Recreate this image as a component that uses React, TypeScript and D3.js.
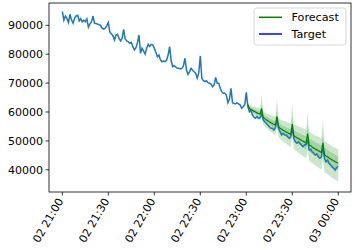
import React from "react";
import * as d3 from "d3";

const START = Date.UTC(2021, 0, 2, 21, 0);

// Target: one value per minute from 02 21:00 to 03 00:00
const targetValues = [
  94800, 91800, 93200, 92400, 91000, 93800, 91800, 90700, 92500, 93300,
  93500, 91500, 92300, 91200, 91800, 91250, 92200, 89400, 90500, 91200,
  93200, 90700, 90600, 90400, 90200, 89900, 89000, 88700, 89000, 89900,
  91000, 87600, 87100, 86400, 84900, 86600, 86900, 85500, 84600, 85500,
  88600, 85250, 84600, 84300, 83800, 84100, 82600, 81450, 82250, 84000,
  86650, 80300, 82050, 81100, 80000, 82050, 83400, 82700, 83400, 83200,
  82050, 80650, 79100, 79700, 78000, 77400, 77650, 77400, 77900, 79700,
  82600, 77650, 75700, 76000, 75570, 75100, 75100, 74900, 75100, 76000,
  78600, 74530, 73000, 73950, 75100, 74430, 73950, 73400, 71700, 73500,
  79400, 71650, 70830, 70500, 70830, 70140, 69930, 69700, 68750, 69340,
  72000, 69930, 69930, 68200, 67030, 66500, 66500, 65880, 63200, 64500,
  68200, 63220, 63000, 62770, 63220, 62770, 62420, 61300, 61830, 62500,
  66800, 61830, 60100, 60700, 58960, 58170, 57800, 58400, 57800, 58000,
  59300, 57230, 56650, 56100, 55500, 54900, 54360, 54360, 53770, 54500,
  57800, 54360, 53200, 52050, 52630, 52050, 52050, 51450, 50900, 51450,
  54400, 50900, 49700, 49170, 49700, 49170, 48580, 48000, 48580, 48800,
  50300, 46850, 47100, 46260, 45700, 45100, 45470, 44530, 43980, 44500,
  48000, 43980, 42800, 43390, 42250, 41660, 41000, 40500, 39900, 40900,
  41200,
];

// Forecast: one value per minute from 02 23:01 to 03 00:00
const forecastStartMinute = 121;
const forecastMedian = [
  62500, 61300, 60900, 60600, 60300, 60000, 59700, 59500, 59300, 61200,
  58200, 57700, 57300, 57000, 56600, 56300, 56000, 55700, 55500, 58500,
  55000, 54400, 54000, 53700, 53400, 53100, 52800, 52500, 52300, 55800,
  51800, 51400, 51100, 50800, 50500, 50200, 49900, 49600, 49300, 52500,
  48600, 48300, 47900, 47500, 47200, 46900, 46600, 46300, 46000, 49300,
  45200, 44800, 44500, 44100, 43700, 43400, 43100, 42800, 42500, 42250,
];
// half width of the 50% interval
const band50Width = [
  500, 550, 600, 650, 700, 750, 800, 850, 900, 1500,
  950, 1000, 1050, 1100, 1150, 1200, 1250, 1300, 1350, 2100,
  1400, 1450, 1500, 1550, 1600, 1650, 1700, 1750, 1800, 2700,
  1850, 1900, 1950, 2000, 2050, 2100, 2150, 2200, 2250, 3100,
  2250, 2300, 2300, 2350, 2350, 2400, 2400, 2400, 2450, 3300,
  2400, 2400, 2450, 2450, 2400, 2400, 2450, 2400, 2400, 2400,
];
// distance of the 90% interval below / above the median
const band90Below = [
  1200, 1300, 1450, 1600, 1750, 1900, 2000, 2150, 2300, 2400,
  2500, 2600, 2750, 2900, 3000, 3100, 3200, 3300, 3400, 3500,
  3600, 3700, 3800, 3900, 4000, 4100, 4200, 4300, 4400, 4500,
  4600, 4700, 4800, 4900, 5000, 5100, 5200, 5300, 5400, 5500,
  5500, 5600, 5600, 5700, 5700, 5800, 5800, 5900, 5900, 6000,
  6000, 6000, 6100, 6100, 6100, 6200, 6200, 6200, 6200, 6200,
];
const band90Above = [
  1200, 1300, 1400, 1500, 1600, 1700, 1800, 1900, 2000, 5000,
  2100, 2200, 2300, 2400, 2500, 2600, 2700, 2800, 2900, 6000,
  3000, 3100, 3200, 3300, 3400, 3500, 3600, 3700, 3800, 7000,
  3900, 4000, 4100, 4200, 4300, 4400, 4500, 4500, 4600, 7500,
  4600, 4600, 4700, 4700, 4700, 4800, 4800, 4800, 4800, 7800,
  4800, 4800, 4800, 4800, 4800, 4800, 4800, 4800, 4800, 4800,
];

const yTicks = [40000, 50000, 60000, 70000, 80000, 90000];
const xTickMinutes = [0, 30, 60, 90, 120, 150, 180];
const legendItems = [
  { label: "Forecast", color: "green" },
  { label: "Target", color: "blue" },
];

const W = 359;
const H = 250;
const L = 49, R = 351, T = 3, B = 192;
const FONT = "DejaVu Sans, sans-serif";

const minute = (m: number) => new Date(START + m * 60000);

export default function App() {
  const x = d3.scaleUtc().domain([minute(-8.7), minute(188.3)]).range([L, R]);
  const y = d3.scaleLinear().domain([32318, 97716]).range([B, T]);
  const fmt = d3.utcFormat("%d %H:%M");

  const target = targetValues.map((v, i) => ({ t: minute(i), v }));
  const fc = forecastMedian.map((m, i) => ({
    t: minute(forecastStartMinute + i),
    m,
    lo50: m - band50Width[i],
    hi50: m + band50Width[i],
    lo90: m - band90Below[i],
    hi90: m + band90Above[i],
  }));

  const line = d3.line<{ t: Date; v: number }>().x((d) => x(d.t)).y((d) => y(d.v));
  const mline = d3.line<any>().x((d) => x(d.t)).y((d) => y(d.m));
  const area90 = d3.area<any>().x((d) => x(d.t)).y0((d) => y(d.lo90)).y1((d) => y(d.hi90));
  const area50 = d3.area<any>().x((d) => x(d.t)).y0((d) => y(d.lo50)).y1((d) => y(d.hi50));

  return (
    <svg width={W} height={H} style={{ position: "fixed", left: 0, top: 0 }} fontFamily={FONT}>
      <rect x={0} y={0} width={W} height={H} fill="white" />
      <path d={area90(fc) || ""} fill="green" fillOpacity={0.2} />
      <path d={area50(fc) || ""} fill="green" fillOpacity={0.2} />
      <path d={line(target) || ""} fill="none" stroke="#1f77b4" strokeWidth={1.5} />
      <path d={mline(fc) || ""} fill="none" stroke="green" strokeWidth={1.2} />
      <rect x={L} y={T} width={R - L} height={B - T} fill="none" stroke="#000" strokeWidth={0.8} />
      {yTicks.map((v) => (
        <g key={v}>
          <line x1={L - 3.5} x2={L} y1={y(v)} y2={y(v)} stroke="#000" strokeWidth={0.8} />
          <text x={L - 6} y={y(v)} dy="0.36em" textAnchor="end" fontSize={11} fill="#000">
            {v}
          </text>
        </g>
      ))}
      {xTickMinutes.map((m) => {
        const tx = x(minute(m));
        return (
          <g key={m}>
            <line x1={tx} x2={tx} y1={B} y2={B + 3.5} stroke="#000" strokeWidth={0.8} />
            <text
              transform={`translate(${tx - 2},${B + 7}) rotate(-60)`}
              textAnchor="end"
              dy="0.35em"
              fontSize={11}
              fill="#000"
            >
              {fmt(minute(m))}
            </text>
          </g>
        );
      })}
      <g>
        <rect x={254} y={8} width={92} height={37} rx={2.5} fill="white" fillOpacity={0.8} stroke="#cccccc" strokeWidth={0.8} />
        {legendItems.map((it, i) => (
          <g key={it.label}>
            <line x1={259} x2={282} y1={17.3 + i * 16.7} y2={17.3 + i * 16.7} stroke={it.color} strokeWidth={1.5} />
            <text x={291.5} y={17.3 + i * 16.7} dy="0.36em" fontSize={11.2} fill="#000">
              {it.label}
            </text>
          </g>
        ))}
      </g>
    </svg>
  );
}
